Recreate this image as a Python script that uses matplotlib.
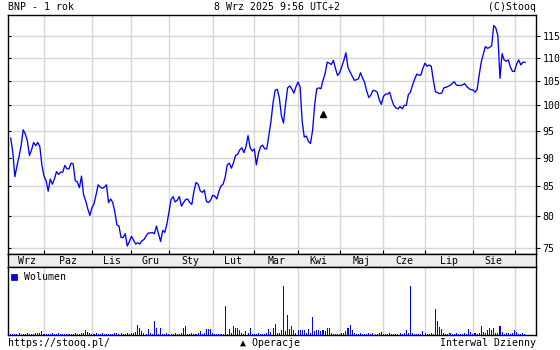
import numpy as np
import pandas as pd
import matplotlib
matplotlib.use("Agg")
import matplotlib.pyplot as plt
from matplotlib.ticker import FixedLocator, NullLocator, FixedFormatter

# ---------------- data ----------------
start_date = "2024-09-09"
end_date = "2025-09-08"
holidays = ["2024-11-01", "2024-11-11", "2024-12-24", "2024-12-25", "2024-12-26",
            "2024-12-31", "2025-01-01", "2025-01-06", "2025-04-18", "2025-04-21",
            "2025-05-01", "2025-06-19", "2025-08-15"]

close = [
    93.6, 91.0, 86.6, 88.5, 90.2, 92.2, 95.2, 94.4, 93.1, 90.4,
    91.4, 92.8, 92.2, 92.8, 92.0, 88.6, 86.7, 85.9, 84.1, 86.2,
    85.3, 86.2, 87.5, 87.0, 87.4, 87.4, 88.6, 88.0, 88.0, 89.0,
    88.9, 85.9, 85.7, 84.7, 86.7, 83.5, 82.5, 81.2, 80.1, 81.3,
    82.0, 83.5, 85.2, 84.8, 84.6, 84.8, 85.2, 82.2, 82.8, 82.2,
    80.7, 78.6, 78.4, 76.6, 76.6, 77.2, 75.3, 76.0, 76.8, 76.2,
    75.6, 75.8, 75.6, 76.1, 76.3, 76.8, 77.3, 77.3, 77.4, 77.2,
    78.4, 77.2, 76.0, 77.7, 77.4, 78.7, 80.6, 82.7, 83.2, 82.3,
    82.6, 83.2, 81.6, 82.2, 82.7, 82.8, 82.2, 81.9, 84.1, 85.6,
    85.3, 84.2, 83.9, 84.3, 82.4, 82.2, 82.6, 83.4, 83.3, 82.8,
    84.1, 85.0, 85.3, 86.5, 88.7, 89.0, 88.1, 89.1, 90.4, 90.6,
    91.4, 91.8, 90.9, 92.0, 94.1, 91.8, 91.2, 91.6, 88.7, 90.8,
    92.0, 92.3, 91.6, 91.6, 94.1, 96.8, 100.5, 103.1, 103.3, 101.6,
    98.0, 96.5, 100.2, 103.6, 104.0, 103.4, 102.5, 103.8, 104.8, 103.8,
    96.8, 93.8, 94.0, 93.0, 92.6, 95.1, 100.2, 103.4, 103.6, 103.4,
    105.2, 106.6, 109.1, 108.9, 108.6, 109.5, 107.7, 106.2, 106.8, 108.1,
    109.5, 111.2, 107.9, 107.0, 106.1, 105.2, 105.3, 105.5, 106.8, 105.7,
    104.7, 102.9, 101.6, 102.1, 103.1, 103.0, 102.7, 101.2, 100.2, 101.8,
    102.3, 102.3, 102.7, 101.2, 100.0, 99.5, 99.3, 99.8, 99.3, 100.0,
    100.0, 102.2, 102.7, 104.2, 105.4, 106.5, 106.3, 106.3, 107.8, 108.9,
    108.2, 108.5, 108.2, 105.2, 102.8, 102.6, 102.4, 102.5, 103.6, 103.7,
    103.9, 104.1, 104.5, 104.9, 104.2, 104.1, 104.1, 104.2, 104.5, 103.9,
    103.5, 103.2, 103.2, 102.7, 103.2, 106.3, 109.1, 110.9, 112.6, 112.2,
    112.4, 112.8, 117.5, 116.9, 115.0, 105.6, 111.0, 109.6, 109.3, 109.6,
    108.0, 107.1, 107.1, 108.7, 109.6, 108.5, 109.1, 109.1,
]

volume = [
    1.2, 1.5, 1.0, 1.3, 1.6, 1.1, 1.4, 1.0, 1.8, 1.2,
    1.5, 1.3, 1.7, 2.0, 2.2, 4.0, 1.5, 1.2, 1.0, 1.4,
    1.6, 1.2, 1.3, 1.8, 1.1, 1.4, 1.2, 1.0, 1.5, 1.3,
    1.2, 1.6, 1.4, 1.1, 2.2, 1.8, 5.0, 3.0, 1.8, 1.2,
    1.5, 2.0, 1.3, 1.4, 1.6, 1.2, 1.1, 1.3, 1.5, 1.2,
    1.6, 1.8, 1.4, 2.0, 1.5, 1.2, 1.6, 1.3, 2.5, 2.0,
    3.0, 10.0, 7.0, 4.0, 2.0, 1.5, 6.0, 2.0, 1.5, 14.0,
    7.0, 1.5, 7.0, 1.5, 1.2, 2.0, 1.3, 1.0, 1.5, 2.5,
    1.2, 1.5, 2.0, 7.0, 9.0, 1.5, 1.2, 1.6, 1.3, 1.5,
    2.0, 4.0, 1.5, 2.5, 6.0, 6.0, 6.0, 1.6, 1.2, 1.3,
    1.5, 1.2, 1.4, 29.0, 1.5, 6.0, 2.5, 9.0, 7.0, 7.0,
    5.0, 2.0, 1.5, 4.0, 2.0, 7.0, 1.5, 1.2, 1.4, 1.6,
    1.3, 1.5, 1.2, 2.0, 6.0, 3.0, 7.0, 11.0, 2.0, 1.8,
    5.0, 49.0, 4.0, 20.0, 6.0, 9.0, 5.0, 2.5, 5.0, 5.0,
    5.0, 5.0, 2.0, 6.0, 2.5, 18.0, 4.0, 5.0, 5.0, 4.0,
    5.0, 4.0, 7.0, 7.0, 2.0, 1.5, 1.2, 1.5, 1.3, 2.0,
    2.5, 4.0, 7.0, 10.0, 5.0, 2.0, 1.5, 1.2, 1.6, 1.3,
    1.2, 1.5, 1.8, 1.3, 2.2, 1.4, 1.2, 1.6, 3.0, 1.5,
    1.2, 1.3, 1.6, 1.4, 1.5, 1.2, 1.3, 1.8, 1.5, 2.0,
    5.0, 2.0, 49.0, 2.0, 1.5, 1.2, 1.3, 1.5, 4.0, 1.6,
    1.4, 1.3, 2.0, 1.5, 26.0, 14.0, 8.0, 6.0, 2.0, 1.5,
    1.3, 1.6, 1.2, 1.4, 2.0, 1.5, 1.2, 1.3, 1.6, 1.4,
    6.0, 3.0, 1.5, 1.6, 1.4, 1.6, 9.0, 3.0, 2.0, 5.0,
    7.0, 5.0, 7.0, 2.0, 2.0, 9.0, 3.0, 1.5, 2.0, 1.6,
    1.5, 1.6, 5.0, 3.0, 1.5, 1.4, 1.6, 1.3,
]

month_labels = ["Wrz", "Paz", "Lis", "Gru", "Sty", "Lut", "Mar",
                "Kwi", "Maj", "Cze", "Lip", "Sie"]
price_ticks = [75, 80, 85, 90, 95, 100, 105, 110, 115]
ops_day = 150
ops_level = 98.3

title_left = "BNP - 1 rok"
title_mid = "8 Wrz 2025 9:56 UTC+2"
title_right = "(C)Stooq"
foot_left = "https://stooq.pl/"
foot_mid = "\u25b2 Operacje"
foot_right = "Interwal Dzienny"
legend_label = "Wolumen"

# ---------------- derived ----------------
dates = pd.bdate_range(start_date, end_date)
dates = dates[~dates.isin(pd.to_datetime(holidays))]
n = len(close)
dates = dates[:n]
idx = np.arange(n)
months = dates.to_period("M")
starts = [0] + [i for i in range(1, n) if months[i] != months[i - 1]]
bounds = starts[1:]  # month boundary gridlines
centers = [(starts[k] + starts[k + 1]) / 2.0 for k in range(len(starts) - 1)]

W, H = 560, 350
FONT = ["DejaVu Sans Mono", "DejaVu Sans"]
FS = 7.1
GRID = "#d6d6d6"
BLUE = "#0000ff"

plt.rcParams["font.family"] = FONT
plt.rcParams["font.size"] = FS

fig = plt.figure(figsize=(W / 100, H / 100), dpi=100)
fig.patch.set_facecolor("white")

def fr(x0, y0, x1, y1):
    return [x0 / W, 1 - y1 / H, (x1 - x0) / W, (y1 - y0) / H]

xlim = (-1.3, 252.3)

# ---- main price axis ----
ax = fig.add_axes(fr(8, 15, 536, 254))
ax.plot(idx, close, color=BLUE, lw=0.95, zorder=3)
ax.plot([ops_day], [ops_level], marker="^", color="black", ms=5.0, ls="none", zorder=4)
ax.set_yscale("log")
ax.set_ylim(74.1, 120.0)
ax.set_xlim(*xlim)
ax.yaxis.set_major_locator(FixedLocator(price_ticks))
ax.yaxis.set_minor_locator(NullLocator())
ax.yaxis.set_major_formatter(FixedFormatter([str(t) for t in price_ticks]))
ax.xaxis.set_major_locator(FixedLocator(bounds))
ax.xaxis.set_minor_locator(NullLocator())
ax.grid(True, color=GRID, lw=1.0, zorder=0)
ax.tick_params(axis="y", which="both", left=True, right=False, labelleft=False,
               direction="in", length=2.5, width=0.8, color="black")
ax.tick_params(axis="x", which="both", bottom=True, top=False, labelbottom=False,
               direction="in", length=3, width=0.8, color="black")
for s in ax.spines.values():
    s.set_color("black"); s.set_linewidth(1.0)

axr = ax.twinx()
axr.set_yscale("log")
axr.set_ylim(74.1, 120.0)
axr.yaxis.set_major_locator(FixedLocator(price_ticks))
axr.yaxis.set_minor_locator(NullLocator())
axr.yaxis.set_major_formatter(FixedFormatter([str(t) for t in price_ticks]))
axr.tick_params(axis="y", which="both", direction="out", length=3, width=0.8,
                pad=1.5, labelsize=FS, color="black")
for s in axr.spines.values():
    s.set_visible(False)

# ---- month band ----
axb = fig.add_axes(fr(8, 254, 536, 267))
axb.set_facecolor("#eeeeee")
axb.set_xlim(*xlim)
axb.set_ylim(0, 1)
axb.set_xticks([]); axb.set_yticks([])
for c, lab in zip(centers, month_labels):
    axb.text(c, 0.45, lab, ha="center", va="center", fontsize=FS, family=FONT)
for s in axb.spines.values():
    s.set_color("black"); s.set_linewidth(1.0)

# ---- volume ----
axv = fig.add_axes(fr(8, 267, 536, 335))
axv.bar(idx, volume, width=0.5, color=BLUE, linewidth=0, zorder=3)
axv.set_xlim(*xlim)
axv.set_ylim(0, max(volume) * 1.39)
axv.xaxis.set_major_locator(FixedLocator(bounds))
axv.set_yticks([])
axv.grid(True, axis="x", color=GRID, lw=1.0, zorder=0)
axv.tick_params(axis="x", bottom=False, labelbottom=False)
for s in axv.spines.values():
    s.set_color("black"); s.set_linewidth(1.0)
axv.plot([0.012], [0.86], marker="s", color=BLUE, ms=4.3, ls="none",
         transform=axv.transAxes, markeredgecolor="#000080", markeredgewidth=0.5)
axv.text(0.03, 0.86, legend_label, transform=axv.transAxes, ha="left", va="center",
         fontsize=FS, family=FONT)

# ---- header / footer ----
def ftext(x, y, s, ha):
    fig.text(x / W, 1 - y / H, s, ha=ha, va="center", fontsize=FS, family=FONT)

ftext(8, 7, title_left, "left")
ftext(277.5, 7, title_mid, "center")
ftext(536, 7, title_right, "right")
ftext(8, 343.5, foot_left, "left")
ftext(270, 343.5, foot_mid, "center")
ftext(536, 343.5, foot_right, "right")

fig.savefig("out.png", dpi=100, facecolor="white")
